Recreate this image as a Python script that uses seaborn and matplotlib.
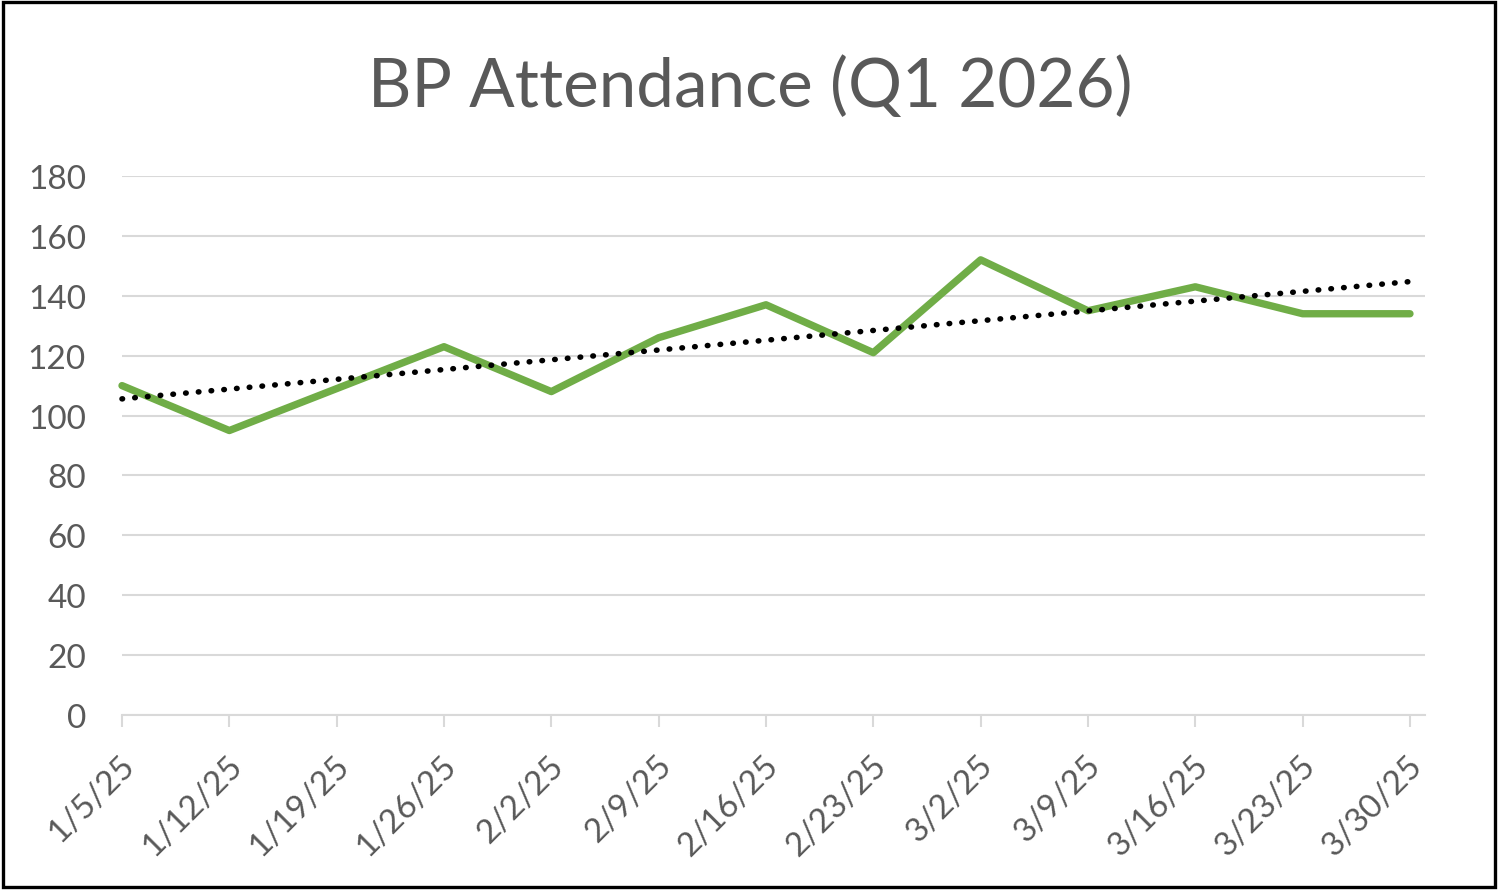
import seaborn as sns
import matplotlib.pyplot as plt
import matplotlib.patches as mpatches
import matplotlib.transforms as mtransforms
import numpy as np
import pandas as pd

weeks = ['1/5/25', '1/12/25', '1/19/25', '1/26/25', '2/2/25', '2/9/25', '2/16/25',
         '2/23/25', '3/2/25', '3/9/25', '3/16/25', '3/23/25', '3/30/25']
attendance = [110, 95, 109, 123, 108, 126, 137, 121, 152, 135, 143, 134, 134]
y_ticks = [0, 20, 40, 60, 80, 100, 120, 140, 160, 180]

df = pd.DataFrame({'week': weeks, 'attendance': attendance})
df['pos'] = np.arange(len(df))

sns.set_theme(style="white")
plt.rcParams['font.family'] = ['Lato', 'DejaVu Sans']

grey_txt = '#595959'
grey_line = '#d9d9d9'

fig = plt.figure(figsize=(15, 8.95), dpi=100)
ax = fig.add_axes([122 / 1500, 1 - 716 / 895, (1425 - 122) / 1500, (716 - 177) / 895])

sns.lineplot(data=df, x='pos', y='attendance', ax=ax, color='#70AD47', linewidth=5.3,
             solid_capstyle='round', solid_joinstyle='round', zorder=3, clip_on=False)
sns.regplot(data=df, x='pos', y='attendance', ax=ax, scatter=False, ci=None, truncate=True,
            line_kws=dict(color='black', linewidth=4.0, linestyle=(0, (0.1, 2.2)),
                          dash_capstyle='round', zorder=4, clip_on=False))

ax.set_xlim(0, 12.14)
ax.set_ylim(0, 180)
ax.set_yticks(y_ticks)
ax.set_xticks(df['pos'])
ax.set_xticklabels(weeks, rotation=45, ha='right', va='center', rotation_mode='anchor')
ax.set_xlabel('')
ax.set_ylabel('')

ax.grid(axis='y', color=grey_line, linewidth=1.5)
ax.set_axisbelow(True)
for s in ['top', 'right', 'left']:
    ax.spines[s].set_visible(False)
ax.spines['bottom'].set_color(grey_line)
ax.spines['bottom'].set_linewidth(1.5)

ax.tick_params(axis='y', length=0, pad=26, labelsize=24, labelcolor=grey_txt)
ax.tick_params(axis='x', bottom=True, length=8.6, width=1.5, color=grey_line, direction='out',
               pad=24, labelsize=24, labelcolor=grey_txt)

# nudge the rotated date labels a little to the right, like the original
shift = mtransforms.ScaledTranslation(8 / 100, 0, fig.dpi_scale_trans)
for lbl in ax.get_xticklabels():
    lbl.set_transform(lbl.get_transform() + shift)

fig.text(0.5, 1 - 107 / 895, 'BP Attendance (Q1 2026)', ha='center', va='baseline',
         fontsize=48.5, color=grey_txt)

border = mpatches.Rectangle((3 / 1500, 1 - 888 / 895), 1492 / 1500, 885 / 895,
                            transform=fig.transFigure, fill=False, edgecolor='black',
                            linewidth=2.4)
fig.patches.append(border)

fig.savefig('out.png', dpi=100)
